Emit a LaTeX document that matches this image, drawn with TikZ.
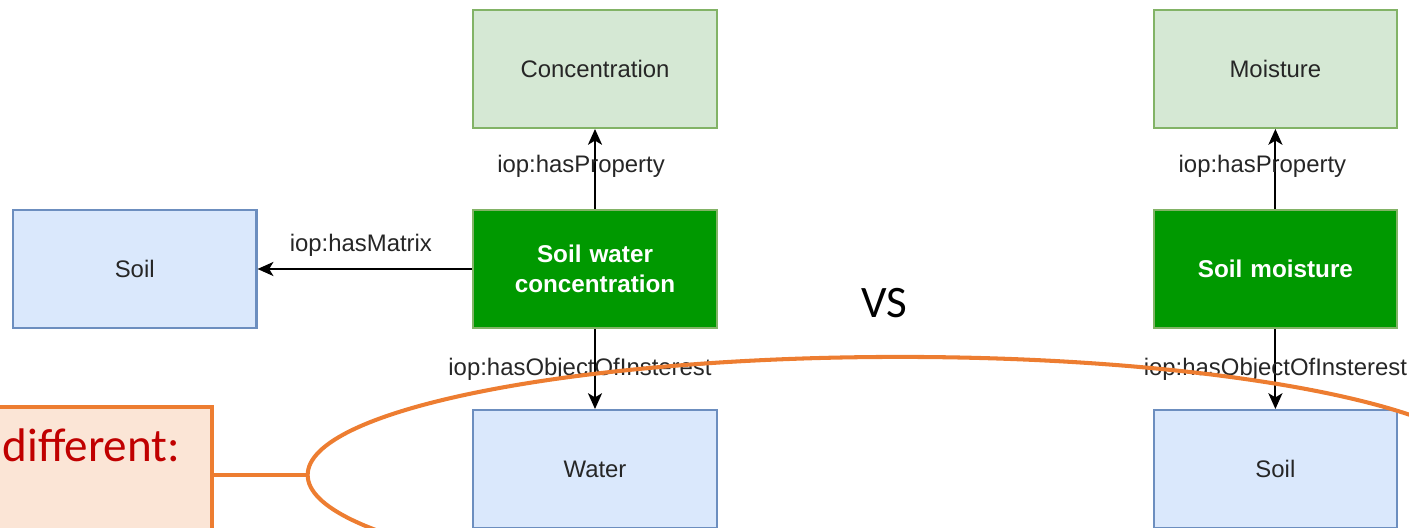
\documentclass[tikz,border=0pt]{standalone}
\usepackage{fontspec}
\setmainfont{Liberation Sans}
\newfontfamily\calibri{Carlito}
\usetikzlibrary{arrows.meta,shapes.geometric}
\definecolor{propfill}{HTML}{D5E8D4}
\definecolor{propline}{HTML}{82B366}
\definecolor{objfill}{HTML}{DAE8FC}
\definecolor{objline}{HTML}{6C8EBF}
\definecolor{varfill}{HTML}{009900}
\definecolor{callfill}{HTML}{FBE5D6}
\definecolor{callline}{HTML}{ED7D31}
\definecolor{calltext}{HTML}{C00000}
\tikzset{box/.style={draw, rectangle, line width=0.6pt, minimum width=2.38cm, minimum height=1.18cm, text width=2.2cm, align=center, text=black!85, font=\fontsize{6.8}{8.5}\selectfont}}
\tikzset{prop/.style={box, fill=propfill, draw=propline}}
\tikzset{obj/.style={box, fill=objfill, draw=objline}}
\tikzset{var/.style={box, fill=varfill, draw=propline, text=white, font=\fontsize{6.9}{8.5}\selectfont\bfseries}}
\tikzset{line/.style={draw, line width=0.6pt, -{Stealth[length=4.5pt,width=4pt,inset=1.2pt]}}}
\tikzset{lab/.style={font=\fontsize{6.8}{8}\selectfont, text=black!85}}
\tikzset{callout/.style={draw=callline, fill=callfill, line width=1.15pt, rectangle, minimum width=2.32cm, minimum height=1.36cm}}
\tikzset{highlight/.style={draw=callline, line width=1.15pt, ellipse, minimum width=11.84cm, minimum height=2.36cm}}
\tikzset{bigtext/.style={font=\calibri\fontsize{12.8}{15}\selectfont}}

\begin{document}
\begin{tikzpicture}[x=0.01cm, y=-0.01cm, node distance=2cm]
    \useasboundingbox (0,0) rectangle (1409,528);
    \clip (0,0) rectangle (1409,528);

    % left graph
    \node [var] (swc) at (595,269) {Soil water\\concentration};
    \node [prop, above of=swc] (conc) {Concentration};
    \node [obj, below of=swc] (water) {Water};
    \node [obj, left of=swc, node distance=4.6cm] (soilm) {Soil};

    % right graph
    \node [var, right of=swc, node distance=6.8cm] (sm) {Soil moisture};
    \node [prop, above of=sm] (moist) {Moisture};
    \node [obj, below of=sm] (soilo) {Soil};

    \path [line] (swc) -- node[lab, xshift=-0.14cm, yshift=0.03cm] {iop:hasProperty} (conc);
    \path [line] (swc) -- node[lab, xshift=-0.04cm, yshift=0.24cm] {iop:hasMatrix} (soilm);
    \path [line] (swc) -- node[lab, xshift=-0.15cm] {iop:hasObjectOfInsterest} (water);

    \path [line] (sm) -- node[lab, xshift=-0.13cm, yshift=0.03cm] {iop:hasProperty} (moist);
    \path [line] (sm) -- node[lab] {iop:hasObjectOfInsterest} (soilo);

    \node [bigtext] (vs) at (884,303) {VS};

    % highlight of the different objects
    \node [callout] (diffbox) at (96,475) {};
    \node [bigtext, text=calltext, anchor=base west, inner sep=0pt, font=\calibri\fontsize{13.4}{16}\selectfont] (diff) at (2,462) {different:};
    \node [highlight] (ring) at (900,475) {};
    \draw [draw=callline, line width=1.15pt] (diffbox.east) -- (ring.west);
\end{tikzpicture}
\end{document}
